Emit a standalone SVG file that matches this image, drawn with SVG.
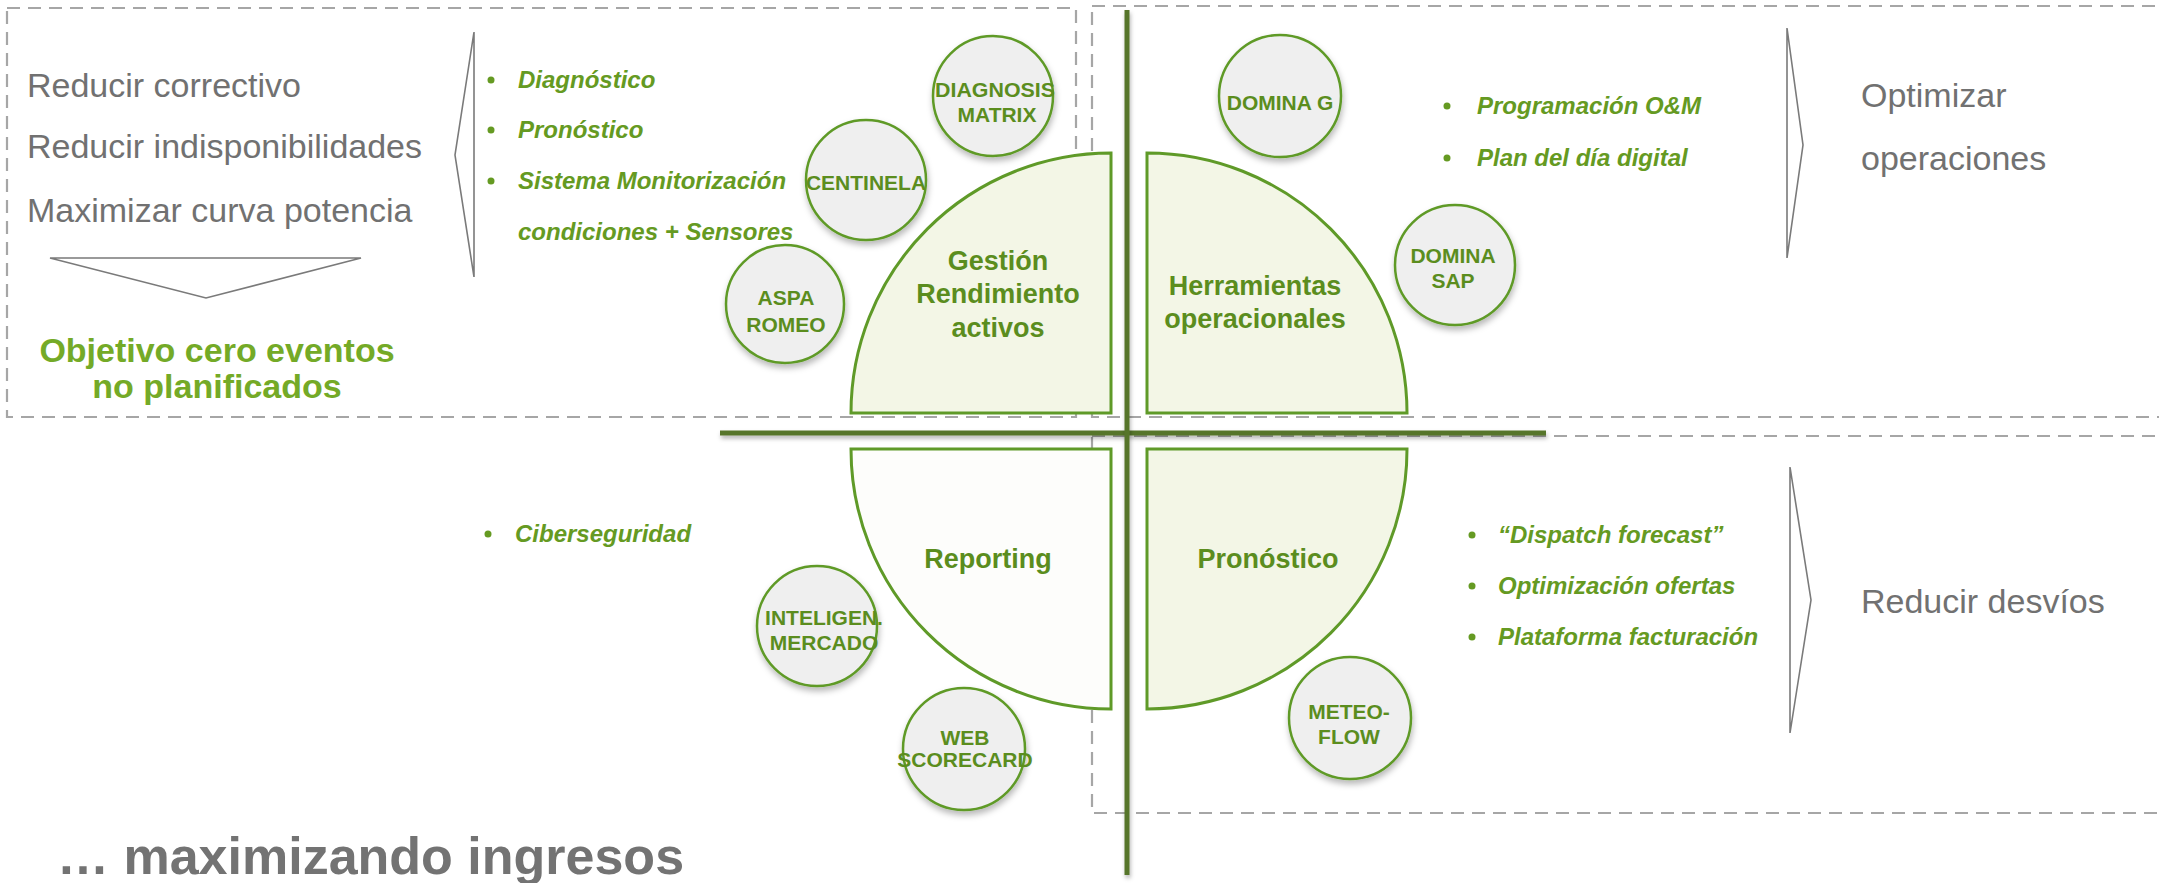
<svg xmlns="http://www.w3.org/2000/svg" width="2159" height="883" viewBox="0 0 2159 883">
<defs>
<filter id="sh" x="-20%" y="-20%" width="140%" height="150%"><feDropShadow dx="1" dy="4" stdDeviation="3" flood-color="#000" flood-opacity="0.28"/></filter>
<filter id="lsh" filterUnits="userSpaceOnUse" x="700" y="0" width="880" height="883"><feDropShadow dx="1" dy="3" stdDeviation="2" flood-color="#000" flood-opacity="0.3"/></filter>
<style>
.box{fill:none;stroke:#a6a6a6;stroke-width:2.2;stroke-dasharray:13 8}
.quad{fill:#f3f6e6;stroke:#5f9a28;stroke-width:3}
.quadw{fill:#fdfdfb;stroke:#5f9a28;stroke-width:3}
.tool{fill:#efefef;stroke:#5f9a28;stroke-width:2.5;filter:url(#sh)}
.axis{fill:#56742a;filter:url(#lsh)}
.brk{fill:#fff;stroke:#7a7a7a;stroke-width:1.6}
.gray{font-family:"Liberation Sans",Arial,sans-serif;font-size:34px;fill:#717171}
.goal{font-family:"Liberation Sans",Arial,sans-serif;font-size:34px;font-weight:bold;fill:#74aa27;text-anchor:middle}
.bul{font-family:"Liberation Sans",Arial,sans-serif;font-size:24px;font-weight:bold;font-style:italic;fill:#659a22}
.dot{fill:#659a22}
.ql{font-family:"Liberation Sans",Arial,sans-serif;font-size:27px;font-weight:bold;fill:#5b8d1e;text-anchor:middle}
.tl{font-family:"Liberation Sans",Arial,sans-serif;font-size:21px;font-weight:bold;fill:#5b8d1e;text-anchor:middle}
.big{font-family:"Liberation Sans",Arial,sans-serif;font-size:52px;font-weight:bold;fill:#737373}
</style>
</defs>
<rect width="2159" height="883" fill="#fff"/>
<g id="frames">
<rect class="box" x="7" y="8" width="1069" height="409"/>
<rect class="box" x="1092" y="6" width="1100" height="411"/>
<rect class="box" x="1092" y="436" width="1100" height="377"/>
</g>
<g id="q-gestion">
<path class="quad" d="M1111,413 V153 A260,260 0 0 0 851,413 Z"/>
<text class="ql" x="998" y="270">Gestión</text>
<text class="ql" x="998" y="303">Rendimiento</text>
<text class="ql" x="998" y="337">activos</text>
</g>
<g id="q-herramientas">
<path class="quad" d="M1147,413 V153 A260,260 0 0 1 1407,413 Z"/>
<text class="ql" x="1255" y="295">Herramientas</text>
<text class="ql" x="1255" y="328">operacionales</text>
</g>
<g id="q-reporting">
<path class="quadw" d="M1111,449 H851 A260,260 0 0 0 1111,709 Z"/>
<text class="ql" x="988" y="568">Reporting</text>
</g>
<g id="q-pronostico">
<path class="quad" d="M1147,449 H1407 A260,260 0 0 1 1147,709 Z"/>
<text class="ql" x="1268" y="568">Pronóstico</text>
</g>
<g id="connectors">
<rect class="axis" x="720" y="430.5" width="826" height="5"/>
<rect class="axis" x="1124.5" y="10" width="5" height="865"/>
<polygon class="brk" points="50,258 361,258 206,298"/>
<polygon class="brk" points="474,32 455,155 474,277"/>
<polygon class="brk" points="1787,28 1803,145 1787,258"/>
<polygon class="brk" points="1790,467 1811,600 1790,733"/>
</g>
<g id="t-diagnosis">
<circle class="tool" cx="993" cy="96" r="60"/>
<text class="tl" x="995" y="97" textLength="120" lengthAdjust="spacingAndGlyphs">DIAGNOSIS</text>
<text class="tl" x="997" y="122">MATRIX</text>
</g>
<g id="t-centinela">
<circle class="tool" cx="866" cy="180" r="60"/>
<text class="tl" x="866" y="190">CENTINELA</text>
</g>
<g id="t-aspa">
<circle class="tool" cx="785" cy="304" r="59"/>
<text class="tl" x="786" y="305">ASPA</text>
<text class="tl" x="786" y="332">ROMEO</text>
</g>
<g id="t-dominag">
<circle class="tool" cx="1280" cy="96" r="61"/>
<text class="tl" x="1280" y="110">DOMINA G</text>
</g>
<g id="t-dominasap">
<circle class="tool" cx="1455" cy="265" r="60"/>
<text class="tl" x="1453" y="263">DOMINA</text>
<text class="tl" x="1453" y="288">SAP</text>
</g>
<g id="t-inteligen">
<circle class="tool" cx="817" cy="626" r="60"/>
<text class="tl" x="824" y="625">INTELIGEN.</text>
<text class="tl" x="824" y="650">MERCADO</text>
</g>
<g id="t-web">
<circle class="tool" cx="964" cy="749" r="61"/>
<text class="tl" x="965" y="745">WEB</text>
<text class="tl" x="965" y="767">SCORECARD</text>
</g>
<g id="t-meteo">
<circle class="tool" cx="1350" cy="718" r="61"/>
<text class="tl" x="1349" y="719">METEO-</text>
<text class="tl" x="1349" y="744">FLOW</text>
</g>
<g id="goals-left">
<text class="gray" x="27" y="97">Reducir correctivo</text>
<text class="gray" x="27" y="158">Reducir indisponibilidades</text>
<text class="gray" x="27" y="222">Maximizar curva potencia</text>
<text class="goal" x="217" y="362">Objetivo cero eventos</text>
<text class="goal" x="217" y="398">no planificados</text>
</g>
<g id="bullets-gestion">
<circle class="dot" cx="491" cy="80" r="3.5"/>
<text class="bul" x="518" y="88">Diagnóstico</text>
<circle class="dot" cx="491" cy="130" r="3.5"/>
<text class="bul" x="518" y="138">Pronóstico</text>
<circle class="dot" cx="491" cy="181" r="3.5"/>
<text class="bul" x="518" y="189">Sistema Monitorización</text>
<text class="bul" x="518" y="240">condiciones + Sensores</text>
</g>
<g id="bullets-herramientas">
<circle class="dot" cx="1447" cy="106" r="3.5"/>
<text class="bul" x="1477" y="114">Programación O&amp;M</text>
<circle class="dot" cx="1447" cy="158" r="3.5"/>
<text class="bul" x="1477" y="166">Plan del día digital</text>
</g>
<g id="goals-right-top">
<text class="gray" x="1861" y="107">Optimizar</text>
<text class="gray" x="1861" y="170">operaciones</text>
</g>
<g id="bullets-reporting">
<circle class="dot" cx="488" cy="534" r="3.5"/>
<text class="bul" x="515" y="542">Ciberseguridad</text>
</g>
<g id="bullets-pronostico">
<circle class="dot" cx="1472" cy="535" r="3.5"/>
<text class="bul" x="1498" y="543">“Dispatch forecast”</text>
<circle class="dot" cx="1472" cy="586" r="3.5"/>
<text class="bul" x="1498" y="594">Optimización ofertas</text>
<circle class="dot" cx="1472" cy="637" r="3.5"/>
<text class="bul" x="1498" y="645">Plataforma facturación</text>
</g>
<g id="goals-right-bottom">
<text class="gray" x="1861" y="613">Reducir desvíos</text>
</g>
<g id="footer">
<text class="big" x="57" y="874">… maximizando ingresos</text>
</g>
</svg>
